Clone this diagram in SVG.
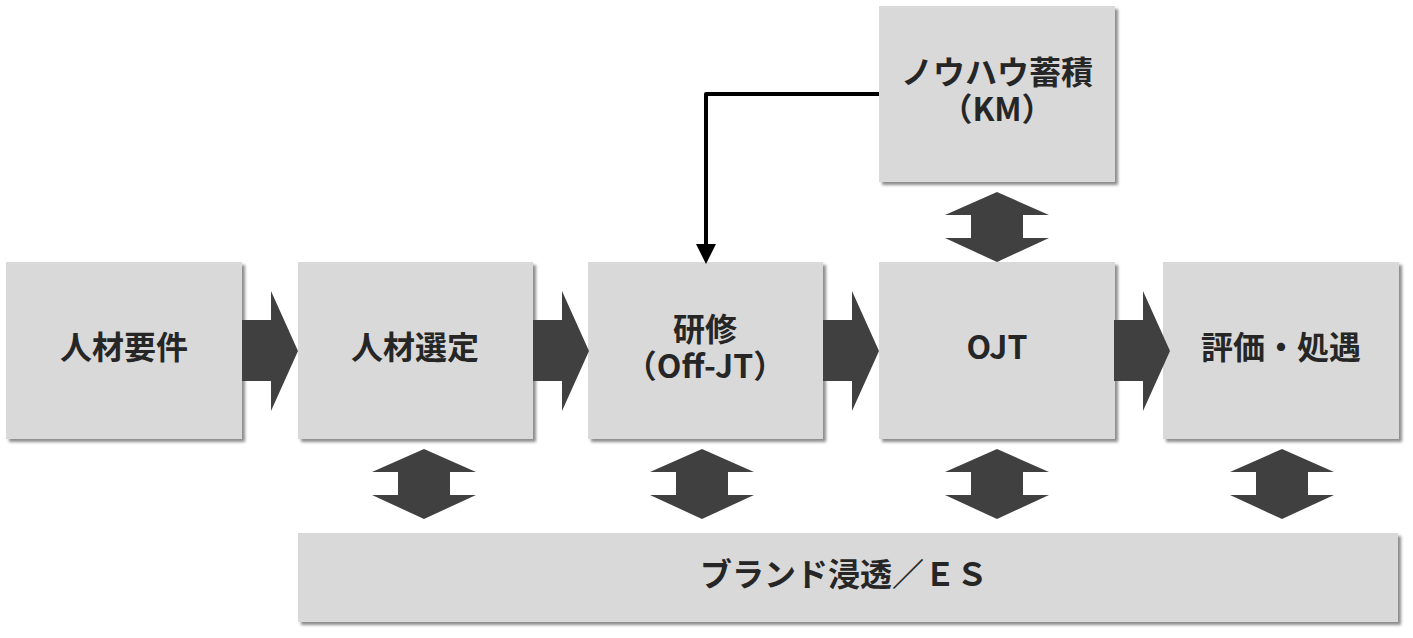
<svg xmlns="http://www.w3.org/2000/svg" width="1413" height="638" viewBox="0 0 1413 638">
<defs>
<filter id="sh" x="-5%" y="-5%" width="112%" height="115%">
<feDropShadow dx="3" dy="3" stdDeviation="1.8" flood-color="#000" flood-opacity="0.45"/>
</filter>
<marker id="ah" markerWidth="5" markerHeight="5" viewBox="0 0 10 10" refX="0" refY="5" orient="auto" markerUnits="strokeWidth">
<path d="M0,0 L10,5 L0,10 Z" fill="#000"/>
</marker>
<path id="dbl" d="M0,0 L52,23 L26,23 L26,46 L52,46 L0,70 L-52,46 L-26,46 L-26,23 L-52,23 Z"/>
<path id="fwd" d="M0,58 L29,58 L29,29 L56,89 L29,149 L29,119 L0,119 Z"/>
</defs>
<style>
.box{fill:#d9d9d9;filter:url(#sh)}
.t{font-family:"Noto Sans CJK JP","Noto Sans",sans-serif;font-weight:bold;font-size:32px;fill:#262626;text-anchor:middle;dominant-baseline:central}
.ar{fill:#404040}
</style>
<rect width="1413" height="638" fill="#fff"/>
<g id="n-jinzai-yoken"><rect class="box" x="6" y="262" width="236" height="177"/><text class="t" x="124" y="345">人材要件</text></g>
<g id="n-jinzai-sentei"><rect class="box" x="298" y="262" width="235" height="177"/><text class="t" x="415" y="345">人材選定</text></g>
<g id="n-kenshu"><rect class="box" x="588" y="262" width="235" height="177"/><text class="t" x="705" y="327"><tspan x="705" y="327">研修</tspan><tspan x="705" y="364">（Off-JT）</tspan></text></g>
<g id="n-ojt"><rect class="box" x="879" y="262" width="236" height="177"/><text class="t" x="997" y="345">OJT</text></g>
<g id="n-hyoka"><rect class="box" x="1163" y="262" width="236" height="177"/><text class="t" x="1281" y="345">評価・処遇</text></g>
<g id="n-km"><rect class="box" x="879" y="6" width="236" height="176"/><text class="t" x="997" y="70"><tspan x="997" y="70">ノウハウ蓄積</tspan><tspan x="997" y="107">（KM）</tspan></text></g>
<g id="n-brand"><rect class="box" x="298" y="533" width="1100" height="89"/><text class="t" x="844" y="572">ブランド浸透／ＥＳ</text></g>
<g id="connectors">
<use href="#fwd" class="ar" x="242" y="262"/>
<use href="#fwd" class="ar" x="533" y="262"/>
<use href="#fwd" class="ar" x="823" y="262"/>
<use href="#fwd" class="ar" x="1114" y="262"/>
<use href="#dbl" class="ar" x="997" y="192"/>
<use href="#dbl" class="ar" x="424" y="449"/>
<use href="#dbl" class="ar" x="702" y="449"/>
<use href="#dbl" class="ar" x="997" y="449"/>
<use href="#dbl" class="ar" x="1282" y="449"/>
<path d="M879,94 L706,94 L706,244" fill="none" stroke="#000" stroke-width="4" stroke-linejoin="round" marker-end="url(#ah)"/>
</g>
</svg>
